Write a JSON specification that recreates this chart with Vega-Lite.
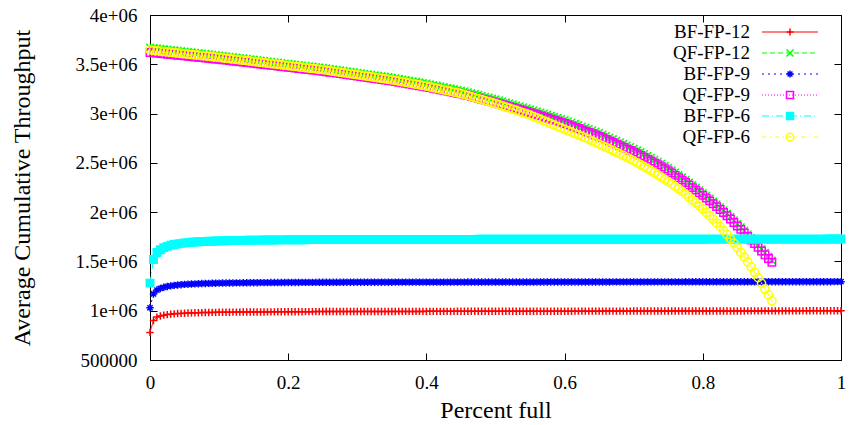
{
"$schema": "https://vega.github.io/schema/vega-lite/v6.json",
"width": 691, "height": 345,
"autosize": {"type": "none"},
"padding": {"left": 150, "top": 15, "right": 9, "bottom": 65},
"background": "white",
"config": {"view": {"stroke": "black", "strokeWidth": 1}, "font": "Liberation Serif"},
"data": {"values": [
{"p":0,"a":780000,"b":3670000,"c":1030000,"d":3620000,"e":1280000,"f":3645000},
{"p":0.005,"a":900000,"b":3666000,"c":1170000,"d":3616500,"e":1520000,"f":3641200},
{"p":0.01,"a":935000,"b":3662000,"c":1210000,"d":3613000,"e":1590000,"f":3637400},
{"p":0.015,"a":946000,"b":3658000,"c":1226000,"d":3609500,"e":1618000,"f":3633600},
{"p":0.02,"a":955000,"b":3654000,"c":1238000,"d":3606000,"e":1640000,"f":3629800},
{"p":0.025,"a":960500,"b":3650000,"c":1246000,"d":3602500,"e":1653000,"f":3626000},
{"p":0.03,"a":965000,"b":3646000,"c":1252000,"d":3599000,"e":1664000,"f":3622200},
{"p":0.035,"a":968000,"b":3642000,"c":1257000,"d":3595500,"e":1672000,"f":3618400},
{"p":0.04,"a":971000,"b":3638000,"c":1261000,"d":3592000,"e":1678000,"f":3614600},
{"p":0.045,"a":973000,"b":3634000,"c":1264000,"d":3588500,"e":1683500,"f":3610800},
{"p":0.05,"a":975000,"b":3630000,"c":1267000,"d":3585000,"e":1688000,"f":3607000},
{"p":0.055,"a":976500,"b":3626000,"c":1269000,"d":3581500,"e":1691000,"f":3603300},
{"p":0.06,"a":978000,"b":3622000,"c":1271000,"d":3578000,"e":1694000,"f":3599600},
{"p":0.065,"a":979000,"b":3618000,"c":1272600,"d":3574500,"e":1696700,"f":3595900},
{"p":0.07,"a":980000,"b":3614000,"c":1274000,"d":3571000,"e":1699000,"f":3592200},
{"p":0.075,"a":981000,"b":3610000,"c":1275300,"d":3567500,"e":1701000,"f":3588500},
{"p":0.08,"a":982000,"b":3606000,"c":1276500,"d":3564000,"e":1702500,"f":3584800},
{"p":0.085,"a":982500,"b":3602000,"c":1277600,"d":3560500,"e":1704100,"f":3581100},
{"p":0.09,"a":983000,"b":3598000,"c":1278500,"d":3557000,"e":1705500,"f":3577400},
{"p":0.095,"a":983500,"b":3594000,"c":1279300,"d":3553500,"e":1706800,"f":3573700},
{"p":0.1,"a":984000,"b":3590000,"c":1280000,"d":3550000,"e":1708000,"f":3570000},
{"p":0.105,"a":984500,"b":3585750,"c":1280500,"d":3546000,"e":1709000,"f":3565800},
{"p":0.11,"a":985000,"b":3581500,"c":1281000,"d":3542000,"e":1710000,"f":3561600},
{"p":0.115,"a":985250,"b":3577250,"c":1281500,"d":3538000,"e":1710750,"f":3557400},
{"p":0.12,"a":985500,"b":3573000,"c":1282000,"d":3534000,"e":1711500,"f":3553200},
{"p":0.125,"a":985750,"b":3568750,"c":1282400,"d":3530000,"e":1712250,"f":3549000},
{"p":0.13,"a":986000,"b":3564500,"c":1282800,"d":3526000,"e":1713000,"f":3544800},
{"p":0.135,"a":986250,"b":3560250,"c":1283150,"d":3522000,"e":1713600,"f":3540600},
{"p":0.14,"a":986500,"b":3556000,"c":1283500,"d":3518000,"e":1714200,"f":3536400},
{"p":0.145,"a":986750,"b":3551750,"c":1283800,"d":3514000,"e":1714750,"f":3532200},
{"p":0.15,"a":987000,"b":3547500,"c":1284100,"d":3510000,"e":1715300,"f":3528000},
{"p":0.155,"a":987250,"b":3543250,"c":1284400,"d":3506000,"e":1715800,"f":3523800},
{"p":0.16,"a":987500,"b":3539000,"c":1284700,"d":3502000,"e":1716300,"f":3519600},
{"p":0.165,"a":987750,"b":3534750,"c":1284950,"d":3498000,"e":1716750,"f":3515400},
{"p":0.17,"a":988000,"b":3530500,"c":1285200,"d":3494000,"e":1717200,"f":3511200},
{"p":0.175,"a":988250,"b":3526250,"c":1285450,"d":3490000,"e":1717600,"f":3507000},
{"p":0.18,"a":988500,"b":3522000,"c":1285700,"d":3486000,"e":1718000,"f":3502800},
{"p":0.185,"a":988750,"b":3517750,"c":1285900,"d":3482000,"e":1718350,"f":3498600},
{"p":0.19,"a":989000,"b":3513500,"c":1286100,"d":3478000,"e":1718700,"f":3494400},
{"p":0.195,"a":989250,"b":3509250,"c":1286300,"d":3474000,"e":1719000,"f":3490200},
{"p":0.2,"a":989500,"b":3505000,"c":1286500,"d":3470000,"e":1719300,"f":3486000},
{"p":0.205,"a":989750,"b":3501000,"c":1286700,"d":3466000,"e":1719600,"f":3481900},
{"p":0.21,"a":990000,"b":3497000,"c":1286900,"d":3462000,"e":1719900,"f":3477800},
{"p":0.215,"a":990150,"b":3493000,"c":1287050,"d":3458000,"e":1720150,"f":3473700},
{"p":0.22,"a":990300,"b":3489000,"c":1287200,"d":3454000,"e":1720400,"f":3469600},
{"p":0.225,"a":990450,"b":3485000,"c":1287350,"d":3450000,"e":1720650,"f":3465500},
{"p":0.23,"a":990600,"b":3481000,"c":1287500,"d":3446000,"e":1720900,"f":3461400},
{"p":0.235,"a":990750,"b":3477000,"c":1287650,"d":3442000,"e":1721100,"f":3457300},
{"p":0.24,"a":990900,"b":3473000,"c":1287800,"d":3438000,"e":1721300,"f":3453200},
{"p":0.245,"a":991050,"b":3469000,"c":1287950,"d":3434000,"e":1721500,"f":3449100},
{"p":0.25,"a":991200,"b":3465000,"c":1288100,"d":3430000,"e":1721700,"f":3445000},
{"p":0.255,"a":991350,"b":3460000,"c":1288250,"d":3425000,"e":1721900,"f":3439900},
{"p":0.26,"a":991500,"b":3455000,"c":1288400,"d":3420000,"e":1722100,"f":3434800},
{"p":0.265,"a":991600,"b":3450000,"c":1288500,"d":3415000,"e":1722250,"f":3429700},
{"p":0.27,"a":991700,"b":3445000,"c":1288600,"d":3410000,"e":1722400,"f":3424600},
{"p":0.275,"a":991800,"b":3440000,"c":1288700,"d":3405000,"e":1722550,"f":3419500},
{"p":0.28,"a":991900,"b":3435000,"c":1288800,"d":3400000,"e":1722700,"f":3414400},
{"p":0.285,"a":992000,"b":3430000,"c":1288900,"d":3395000,"e":1722850,"f":3409300},
{"p":0.29,"a":992100,"b":3425000,"c":1289000,"d":3390000,"e":1723000,"f":3404200},
{"p":0.295,"a":992200,"b":3420000,"c":1289100,"d":3385000,"e":1723150,"f":3399100},
{"p":0.3,"a":992300,"b":3415000,"c":1289200,"d":3380000,"e":1723300,"f":3394000},
{"p":0.305,"a":992350,"b":3410000,"c":1289240,"d":3375000,"e":1723325,"f":3388800},
{"p":0.31,"a":992400,"b":3405000,"c":1289280,"d":3370000,"e":1723350,"f":3383600},
{"p":0.315,"a":992450,"b":3400000,"c":1289320,"d":3365000,"e":1723375,"f":3378400},
{"p":0.32,"a":992500,"b":3395000,"c":1289360,"d":3360000,"e":1723400,"f":3373200},
{"p":0.325,"a":992550,"b":3390000,"c":1289400,"d":3355000,"e":1723425,"f":3368000},
{"p":0.33,"a":992600,"b":3385000,"c":1289440,"d":3350000,"e":1723450,"f":3362800},
{"p":0.335,"a":992650,"b":3380000,"c":1289480,"d":3345000,"e":1723475,"f":3357600},
{"p":0.34,"a":992700,"b":3375000,"c":1289520,"d":3340000,"e":1723500,"f":3352400},
{"p":0.345,"a":992750,"b":3370000,"c":1289560,"d":3335000,"e":1723525,"f":3347200},
{"p":0.35,"a":992800,"b":3365000,"c":1289600,"d":3330000,"e":1723550,"f":3342000},
{"p":0.355,"a":992850,"b":3359000,"c":1289640,"d":3324000,"e":1723575,"f":3335600},
{"p":0.36,"a":992900,"b":3353000,"c":1289680,"d":3318000,"e":1723600,"f":3329200},
{"p":0.365,"a":992950,"b":3347000,"c":1289720,"d":3312000,"e":1723625,"f":3322800},
{"p":0.37,"a":993000,"b":3341000,"c":1289760,"d":3306000,"e":1723650,"f":3316400},
{"p":0.375,"a":993050,"b":3335000,"c":1289800,"d":3300000,"e":1723675,"f":3310000},
{"p":0.38,"a":993100,"b":3329000,"c":1289840,"d":3294000,"e":1723700,"f":3303600},
{"p":0.385,"a":993150,"b":3323000,"c":1289880,"d":3288000,"e":1723725,"f":3297200},
{"p":0.39,"a":993200,"b":3317000,"c":1289920,"d":3282000,"e":1723750,"f":3290800},
{"p":0.395,"a":993250,"b":3311000,"c":1289960,"d":3276000,"e":1723775,"f":3284400},
{"p":0.4,"a":993300,"b":3305000,"c":1290000,"d":3270000,"e":1723800,"f":3278000},
{"p":0.405,"a":993350,"b":3298000,"c":1290040,"d":3263000,"e":1723825,"f":3270400},
{"p":0.41,"a":993400,"b":3291000,"c":1290080,"d":3256000,"e":1723850,"f":3262800},
{"p":0.415,"a":993450,"b":3284000,"c":1290120,"d":3249000,"e":1723875,"f":3255200},
{"p":0.42,"a":993500,"b":3277000,"c":1290160,"d":3242000,"e":1723900,"f":3247600},
{"p":0.425,"a":993550,"b":3270000,"c":1290200,"d":3235000,"e":1723925,"f":3240000},
{"p":0.43,"a":993600,"b":3263000,"c":1290240,"d":3228000,"e":1723950,"f":3232400},
{"p":0.435,"a":993650,"b":3256000,"c":1290280,"d":3221000,"e":1723975,"f":3224800},
{"p":0.44,"a":993700,"b":3249000,"c":1290320,"d":3214000,"e":1724000,"f":3217200},
{"p":0.445,"a":993750,"b":3242000,"c":1290360,"d":3207000,"e":1724025,"f":3209600},
{"p":0.45,"a":993800,"b":3235000,"c":1290400,"d":3200000,"e":1724050,"f":3202000},
{"p":0.455,"a":993850,"b":3226000,"c":1290440,"d":3191000,"e":1724075,"f":3192000},
{"p":0.46,"a":993900,"b":3217000,"c":1290480,"d":3182000,"e":1724100,"f":3182000},
{"p":0.465,"a":993950,"b":3208000,"c":1290520,"d":3173000,"e":1724125,"f":3172000},
{"p":0.47,"a":994000,"b":3199000,"c":1290560,"d":3164000,"e":1724150,"f":3162000},
{"p":0.475,"a":994050,"b":3190000,"c":1290600,"d":3155000,"e":1724175,"f":3152000},
{"p":0.48,"a":994100,"b":3181000,"c":1290640,"d":3146000,"e":1724200,"f":3142000},
{"p":0.485,"a":994150,"b":3172000,"c":1290680,"d":3137000,"e":1724225,"f":3132000},
{"p":0.49,"a":994200,"b":3163000,"c":1290720,"d":3128000,"e":1724250,"f":3122000},
{"p":0.495,"a":994250,"b":3154000,"c":1290760,"d":3119000,"e":1724275,"f":3112000},
{"p":0.5,"a":994300,"b":3145000,"c":1290800,"d":3110000,"e":1724300,"f":3102000},
{"p":0.505,"a":994350,"b":3135000,"c":1290840,"d":3100000,"e":1724325,"f":3090300},
{"p":0.51,"a":994400,"b":3125000,"c":1290880,"d":3090000,"e":1724350,"f":3078600},
{"p":0.515,"a":994450,"b":3115000,"c":1290920,"d":3080000,"e":1724375,"f":3066900},
{"p":0.52,"a":994500,"b":3105000,"c":1290960,"d":3070000,"e":1724400,"f":3055200},
{"p":0.525,"a":994550,"b":3095000,"c":1291000,"d":3060000,"e":1724425,"f":3043500},
{"p":0.53,"a":994600,"b":3085000,"c":1291040,"d":3050000,"e":1724450,"f":3031800},
{"p":0.535,"a":994650,"b":3075000,"c":1291080,"d":3040000,"e":1724475,"f":3020100},
{"p":0.54,"a":994700,"b":3065000,"c":1291120,"d":3030000,"e":1724500,"f":3008400},
{"p":0.545,"a":994750,"b":3055000,"c":1291160,"d":3020000,"e":1724525,"f":2996700},
{"p":0.55,"a":994800,"b":3045000,"c":1291200,"d":3010000,"e":1724550,"f":2985000},
{"p":0.555,"a":994850,"b":3034000,"c":1291240,"d":2999000,"e":1724575,"f":2970500},
{"p":0.56,"a":994900,"b":3023000,"c":1291280,"d":2988000,"e":1724600,"f":2956000},
{"p":0.565,"a":994950,"b":3012000,"c":1291320,"d":2977000,"e":1724625,"f":2941500},
{"p":0.57,"a":995000,"b":3001000,"c":1291360,"d":2966000,"e":1724650,"f":2927000},
{"p":0.575,"a":995050,"b":2990000,"c":1291400,"d":2955000,"e":1724675,"f":2912500},
{"p":0.58,"a":995100,"b":2979000,"c":1291440,"d":2944000,"e":1724700,"f":2898000},
{"p":0.585,"a":995150,"b":2968000,"c":1291480,"d":2933000,"e":1724725,"f":2883500},
{"p":0.59,"a":995200,"b":2957000,"c":1291520,"d":2922000,"e":1724750,"f":2869000},
{"p":0.595,"a":995250,"b":2946000,"c":1291560,"d":2911000,"e":1724775,"f":2854500},
{"p":0.6,"a":995300,"b":2935000,"c":1291600,"d":2900000,"e":1724800,"f":2840000},
{"p":0.605,"a":995350,"b":2922000,"c":1291640,"d":2887000,"e":1724825,"f":2826000},
{"p":0.61,"a":995400,"b":2909000,"c":1291680,"d":2874000,"e":1724850,"f":2812000},
{"p":0.615,"a":995450,"b":2896000,"c":1291720,"d":2861000,"e":1724875,"f":2797500},
{"p":0.62,"a":995500,"b":2883000,"c":1291760,"d":2848000,"e":1724900,"f":2783000},
{"p":0.625,"a":995550,"b":2870000,"c":1291800,"d":2835000,"e":1724925,"f":2768000},
{"p":0.63,"a":995600,"b":2857000,"c":1291840,"d":2822000,"e":1724950,"f":2753000},
{"p":0.635,"a":995650,"b":2844000,"c":1291880,"d":2809000,"e":1724975,"f":2737500},
{"p":0.64,"a":995700,"b":2831000,"c":1291920,"d":2796000,"e":1725000,"f":2722000},
{"p":0.645,"a":995750,"b":2818000,"c":1291960,"d":2783000,"e":1725025,"f":2706000},
{"p":0.65,"a":995800,"b":2805000,"c":1292000,"d":2770000,"e":1725050,"f":2690000},
{"p":0.655,"a":995850,"b":2789000,"c":1292040,"d":2754000,"e":1725075,"f":2674000},
{"p":0.66,"a":995900,"b":2773000,"c":1292080,"d":2738000,"e":1725100,"f":2658000},
{"p":0.665,"a":995950,"b":2757000,"c":1292120,"d":2722000,"e":1725125,"f":2641500},
{"p":0.67,"a":996000,"b":2741000,"c":1292160,"d":2706000,"e":1725150,"f":2625000},
{"p":0.675,"a":996050,"b":2725000,"c":1292200,"d":2690000,"e":1725175,"f":2608000},
{"p":0.68,"a":996100,"b":2709000,"c":1292240,"d":2674000,"e":1725200,"f":2591000},
{"p":0.685,"a":996150,"b":2693000,"c":1292280,"d":2658000,"e":1725225,"f":2573500},
{"p":0.69,"a":996200,"b":2677000,"c":1292320,"d":2642000,"e":1725250,"f":2556000},
{"p":0.695,"a":996250,"b":2661000,"c":1292360,"d":2626000,"e":1725275,"f":2538000},
{"p":0.7,"a":996300,"b":2645000,"c":1292400,"d":2610000,"e":1725300,"f":2520000},
{"p":0.705,"a":996350,"b":2627000,"c":1292440,"d":2592500,"e":1725325,"f":2501000},
{"p":0.71,"a":996400,"b":2609000,"c":1292480,"d":2575000,"e":1725350,"f":2482000},
{"p":0.715,"a":996450,"b":2590000,"c":1292520,"d":2556500,"e":1725375,"f":2462000},
{"p":0.72,"a":996500,"b":2571000,"c":1292560,"d":2538000,"e":1725400,"f":2442000},
{"p":0.725,"a":996550,"b":2551500,"c":1292600,"d":2519000,"e":1725425,"f":2421000},
{"p":0.73,"a":996600,"b":2532000,"c":1292640,"d":2500000,"e":1725450,"f":2400000},
{"p":0.735,"a":996650,"b":2512000,"c":1292680,"d":2480500,"e":1725475,"f":2378000},
{"p":0.74,"a":996700,"b":2492000,"c":1292720,"d":2461000,"e":1725500,"f":2356000},
{"p":0.745,"a":996750,"b":2471000,"c":1292760,"d":2440500,"e":1725525,"f":2333000},
{"p":0.75,"a":996800,"b":2450000,"c":1292800,"d":2420000,"e":1725550,"f":2310000},
{"p":0.755,"a":996850,"b":2426000,"c":1292840,"d":2396500,"e":1725575,"f":2286000},
{"p":0.76,"a":996900,"b":2402000,"c":1292880,"d":2373000,"e":1725600,"f":2262000},
{"p":0.765,"a":996950,"b":2377500,"c":1292920,"d":2349000,"e":1725625,"f":2236500},
{"p":0.77,"a":997000,"b":2353000,"c":1292960,"d":2325000,"e":1725650,"f":2211000},
{"p":0.775,"a":997050,"b":2327500,"c":1293000,"d":2300000,"e":1725675,"f":2182000},
{"p":0.78,"a":997100,"b":2302000,"c":1293040,"d":2275000,"e":1725700,"f":2152000},
{"p":0.785,"a":997150,"b":2275500,"c":1293080,"d":2249000,"e":1725725,"f":2122500},
{"p":0.79,"a":997200,"b":2249000,"c":1293120,"d":2223000,"e":1725750,"f":2093000},
{"p":0.795,"a":997250,"b":2222000,"c":1293160,"d":2196500,"e":1725775,"f":2061500},
{"p":0.8,"a":997300,"b":2195000,"c":1293200,"d":2170000,"e":1725800,"f":2030000},
{"p":0.805,"a":997350,"b":2166700,"c":1293240,"d":2142000,"e":1725825,"f":1996000},
{"p":0.81,"a":997400,"b":2138400,"c":1293280,"d":2114000,"e":1725850,"f":1962000},
{"p":0.815,"a":997450,"b":2109100,"c":1293320,"d":2085000,"e":1725875,"f":1926000},
{"p":0.82,"a":997500,"b":2079800,"c":1293360,"d":2056000,"e":1725900,"f":1890000},
{"p":0.825,"a":997550,"b":2049500,"c":1293400,"d":2026000,"e":1725925,"f":1852500},
{"p":0.83,"a":997600,"b":2019200,"c":1293440,"d":1996000,"e":1725950,"f":1815000},
{"p":0.835,"a":997650,"b":1986400,"c":1293480,"d":1963500,"e":1725975,"f":1772500},
{"p":0.84,"a":997700,"b":1953600,"c":1293520,"d":1931000,"e":1726000,"f":1730000},
{"p":0.845,"a":997750,"b":1917800,"c":1293560,"d":1895500,"e":1726025,"f":1685000},
{"p":0.85,"a":997800,"b":1882000,"c":1293600,"d":1860000,"e":1726050,"f":1640000},
{"p":0.855,"a":997850,"b":1846800,"c":1293640,"d":1825000,"e":1726075,"f":1592500},
{"p":0.86,"a":997900,"b":1811600,"c":1293680,"d":1790000,"e":1726100,"f":1545000},
{"p":0.865,"a":997950,"b":1775400,"c":1293720,"d":1754000,"e":1726125,"f":1495000},
{"p":0.87,"a":998000,"b":1739200,"c":1293760,"d":1718000,"e":1726150,"f":1445000},
{"p":0.875,"a":998050,"b":1702000,"c":1293800,"d":1681000,"e":1726175,"f":1390000},
{"p":0.88,"a":998100,"b":1664800,"c":1293840,"d":1644000,"e":1726200,"f":1335000},
{"p":0.885,"a":998150,"b":1626600,"c":1293880,"d":1606000,"e":1726225,"f":1277500},
{"p":0.89,"a":998200,"b":1588400,"c":1293920,"d":1568000,"e":1726250,"f":1220000},
{"p":0.895,"a":998250,"b":1549200,"c":1293960,"d":1529000,"e":1726275,"f":1160000},
{"p":0.9,"a":998300,"b":1510000,"c":1294000,"d":1490000,"e":1726300,"f":1100000},
{"p":0.905,"a":998350,"c":1294040,"e":1726325},
{"p":0.91,"a":998400,"c":1294080,"e":1726350},
{"p":0.915,"a":998450,"c":1294120,"e":1726375},
{"p":0.92,"a":998500,"c":1294160,"e":1726400},
{"p":0.925,"a":998550,"c":1294200,"e":1726425},
{"p":0.93,"a":998600,"c":1294240,"e":1726450},
{"p":0.935,"a":998650,"c":1294280,"e":1726475},
{"p":0.94,"a":998700,"c":1294320,"e":1726500},
{"p":0.945,"a":998750,"c":1294360,"e":1726525},
{"p":0.95,"a":998800,"c":1294400,"e":1726550},
{"p":0.955,"a":998850,"c":1294440,"e":1726575},
{"p":0.96,"a":998900,"c":1294480,"e":1726600},
{"p":0.965,"a":998950,"c":1294520,"e":1726625},
{"p":0.97,"a":999000,"c":1294560,"e":1726650},
{"p":0.975,"a":999050,"c":1294600,"e":1726675},
{"p":0.98,"a":999100,"c":1294640,"e":1726700},
{"p":0.985,"a":999150,"c":1294680,"e":1726725},
{"p":0.99,"a":999200,"c":1294720,"e":1726750},
{"p":0.995,"a":999250,"c":1294760,"e":1726775},
{"p":1,"a":999300,"c":1294800,"e":1726800}
]},
"transform": [
{"fold": ["a","b","c","d","e","f"], "as": ["k","thr"]},
{"filter": "isValid(datum.thr)"},
{"lookup": "k", "from": {"data": {"values": [
{"k":"a","series":"BF-FP-12","rank":1},{"k":"b","series":"QF-FP-12","rank":2},{"k":"c","series":"BF-FP-9","rank":3},
{"k":"d","series":"QF-FP-9","rank":4},{"k":"e","series":"BF-FP-6","rank":5},{"k":"f","series":"QF-FP-6","rank":6}]}, "key": "k", "fields": ["series","rank"]}}
],
"layer": [
{
"mark": {"type": "line", "strokeWidth": 1},
"encoding": {
"x": {"field": "p", "type": "quantitative", "scale": {"domain": [0, 1], "nice": false, "zero": false},
 "axis": {"orient": "bottom", "values": [0, 0.2, 0.4, 0.6, 0.8, 1], "labelExpr": "format(datum.value, '~g')", "tickSize": -7, "tickColor": "black", "labelPadding": 20, "domain": false, "grid": false, "labelFlush": false, "labelOverlap": false, "labelFont": "Liberation Serif", "labelFontSize": 19, "labelColor": "black", "title": "Percent full", "titleFont": "Liberation Serif", "titleFontSize": 24, "titleFontWeight": "normal", "titleColor": "black", "titlePadding": 6}},
"y": {"field": "thr", "type": "quantitative", "scale": {"domain": [500000, 4000000], "nice": false, "zero": false},
 "axis": {"orient": "left", "values": [500000, 1000000, 1500000, 2000000, 2500000, 3000000, 3500000, 4000000], "labelExpr": "datum.value == 500000 ? '500000' : format(datum.value / 1000000, '~g') + 'e+06'", "tickSize": -7, "tickColor": "black", "labelPadding": 20, "domain": false, "grid": false, "labelFlush": false, "labelOverlap": false, "labelFont": "Liberation Serif", "labelFontSize": 19, "labelColor": "black", "title": "Average Cumulative Throughput", "titleFont": "Liberation Serif", "titleFontSize": 24, "titleFontWeight": "normal", "titleColor": "black", "titlePadding": 41}},
"color": {"field": "series", "type": "nominal",
 "scale": {"domain": ["BF-FP-12","QF-FP-12","BF-FP-9","QF-FP-9","BF-FP-6","QF-FP-6"], "range": ["#ff0000","#00ff00","#0000ff","#ff00ff","#00ffff","#ffff00"]},
 "legend": {"title": null, "orient": "none", "legendX": 520, "legendY": 7.5, "padding": 0, "symbolType": "M-11.2,0L11.2,0", "symbolSize": 25, "symbolStrokeWidth": 1, "symbolOffset": 110.5, "labelOffset": -49.5, "labelAlign": "right", "labelFont": "Liberation Serif", "labelFontSize": 19, "labelColor": "black", "rowPadding": 1}},
"strokeDash": {"field": "series", "type": "nominal",
 "scale": {"domain": ["BF-FP-12","QF-FP-12","BF-FP-9","QF-FP-9","BF-FP-6","QF-FP-6"], "range": [[1,0],[5,3],[2,4],[1,2],[7,3,1,3],[4,4,1,4]]},
 "legend": {"title": null, "orient": "none", "legendX": 520, "legendY": 7.5, "padding": 0, "symbolType": "M-11.2,0L11.2,0", "symbolSize": 25, "symbolStrokeWidth": 1, "symbolOffset": 110.5, "labelOffset": -49.5, "labelAlign": "right", "labelFont": "Liberation Serif", "labelFontSize": 19, "labelColor": "black", "rowPadding": 1}}
}
},
{
"mark": {"type": "point", "filled": false, "size": 55, "strokeWidth": 1.5, "opacity": 1},
"encoding": {
"x": {"field": "p", "type": "quantitative", "axis": {"orient": "top", "values": [0, 0.2, 0.4, 0.6, 0.8, 1], "labels": false, "title": null, "tickSize": -7, "tickColor": "black", "domain": false, "grid": false}},
"y": {"field": "thr", "type": "quantitative", "axis": {"orient": "right", "values": [500000, 1000000, 1500000, 2000000, 2500000, 3000000, 3500000, 4000000], "labels": false, "title": null, "tickSize": -7, "tickColor": "black", "domain": false, "grid": false}},
"color": {"field": "series", "type": "nominal",
 "legend": {"title": null, "orient": "none", "legendX": 520, "legendY": 7.5, "padding": 0, "symbolSize": 49, "symbolStrokeWidth": 1.5, "symbolOffset": 110.5, "labelOffset": -49.5, "labelAlign": "right", "labelOpacity": 0, "labelFont": "Liberation Serif", "labelFontSize": 19, "rowPadding": 1}},
"shape": {"field": "series", "type": "nominal",
 "scale": {"domain": ["BF-FP-12","QF-FP-12","BF-FP-9","QF-FP-9","BF-FP-6","QF-FP-6"], "range": ["M-1,0L1,0M0,-1L0,1", "M-1,-1L1,1M-1,1L1,-1", "M-1,0L1,0M0,-1L0,1M-0.7,-0.7L0.7,0.7M-0.7,0.7L0.7,-0.7", "square", "M-1,-1L1,-1L1,1L-1,1ZM-1,-0.7L1,-0.7M-1,-0.4L1,-0.4M-1,-0.1L1,-0.1M-1,0.2L1,0.2M-1,0.5L1,0.5M-1,0.8L1,0.8", "M-1.1,0A1.1,1.1,0,1,1,1.1,0A1.1,1.1,0,1,1,-1.1,0ZM-0.15,0L0.15,0"]},
 "legend": {"title": null, "orient": "none", "legendX": 520, "legendY": 7.5, "padding": 0, "symbolSize": 49, "symbolStrokeWidth": 1.5, "symbolOffset": 110.5, "labelOffset": -49.5, "labelAlign": "right", "labelOpacity": 0, "labelFont": "Liberation Serif", "labelFontSize": 19, "rowPadding": 1}},
"fill": {"condition": {"test": "datum.series === 'BF-FP-6'", "value": "#00ffff"}, "value": "transparent"},
"order": {"field": "rank", "type": "quantitative"}
}
}
],
"resolve": {"legend": {"color": "independent", "strokeDash": "independent", "shape": "independent"}, "axis": {"x": "independent", "y": "independent"}}
}
